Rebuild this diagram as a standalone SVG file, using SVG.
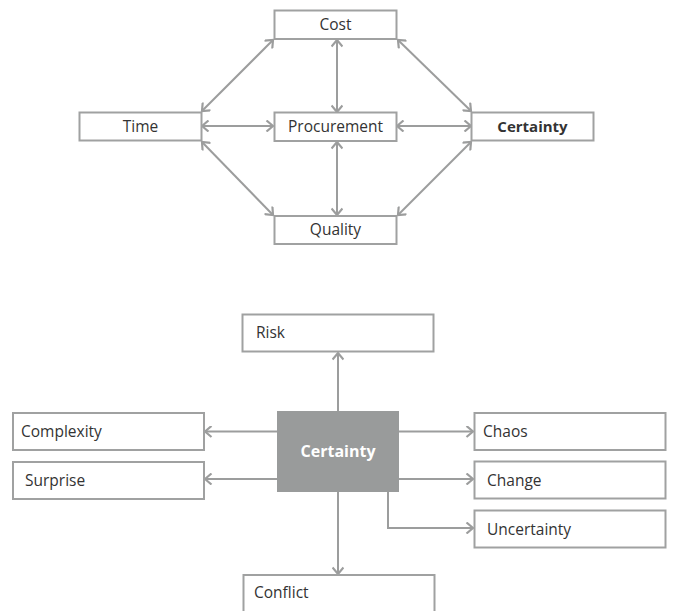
<svg xmlns="http://www.w3.org/2000/svg" width="674" height="611" viewBox="0 0 674 611">
<style>
.box{fill:#fff;stroke:#a0a1a1;stroke-width:2}
.gbox{fill:#999b9b;stroke:none}
.t{font-family:"Open Sans","Noto Sans","Liberation Sans",sans-serif;font-size:15.5px;fill:#333}
.c{text-anchor:middle}
.b{font-weight:bold;font-size:15px}
.w{fill:#fff;font-size:16px}
.ln{fill:none;stroke:#9c9d9d;stroke-width:2}
.ar{marker-end:url(#ah)}
.dbl{marker-start:url(#ah);marker-end:url(#ah)}
</style>
<defs>
<marker id="ah" viewBox="0 0 12 12" markerWidth="12" markerHeight="12" refX="10.5" refY="6" orient="auto-start-reverse" markerUnits="userSpaceOnUse">
<path d="M4,0.5 L10.5,6 L4,11.5" fill="none" stroke="#9c9d9d" stroke-width="2.2"/>
</marker>
</defs>
<rect width="674" height="611" fill="#fff"/>
<g id="connectors">
<line class="ln dbl" x1="337" y1="40" x2="337" y2="112"/>
<line class="ln dbl" x1="202" y1="126" x2="273" y2="126"/>
<line class="ln dbl" x1="397" y1="126" x2="471" y2="126"/>
<line class="ln dbl" x1="337" y1="142" x2="337" y2="215"/>
<line class="ln dbl" x1="202" y1="111" x2="273" y2="40"/>
<line class="ln dbl" x1="398" y1="40" x2="471" y2="111"/>
<line class="ln dbl" x1="202" y1="142" x2="273" y2="215"/>
<line class="ln dbl" x1="471" y1="142" x2="398" y2="215"/>
<line class="ln ar" x1="338" y1="411" x2="338" y2="353"/>
<line class="ln ar" x1="277" y1="431.5" x2="205" y2="431.5"/>
<line class="ln ar" x1="277" y1="479" x2="205" y2="479"/>
<line class="ln ar" x1="399" y1="431.5" x2="473" y2="431.5"/>
<line class="ln ar" x1="399" y1="479" x2="473" y2="479"/>
<polyline class="ln ar" points="388,492 388,528 473,528"/>
<line class="ln ar" x1="338" y1="492" x2="338" y2="574"/>
</g>
<g id="cost"><rect class="box" x="274.5" y="10.5" width="122" height="28.5"/><text class="t c" x="335.5" y="30">Cost</text></g>
<g id="time"><rect class="box" x="79.5" y="112.5" width="122" height="28"/><text class="t c" x="140.5" y="131.5">Time</text></g>
<g id="procurement"><rect class="box" x="274.5" y="112.5" width="122" height="28.5"/><text class="t c" x="335.5" y="131.5">Procurement</text></g>
<g id="certainty-top"><rect class="box" x="471.5" y="112.5" width="122" height="28"/><text class="t c b" x="532.5" y="131.5">Certainty</text></g>
<g id="quality"><rect class="box" x="274.5" y="216" width="122" height="28"/><text class="t c" x="335.5" y="235">Quality</text></g>
<g id="risk"><rect class="box" x="242.5" y="314.5" width="191" height="37"/><text class="t" x="256" y="338">Risk</text></g>
<g id="certainty"><rect class="gbox" x="277" y="411" width="122" height="81"/><text class="t c b w" x="338" y="457">Certainty</text></g>
<g id="complexity"><rect class="box" x="13" y="413" width="191" height="37"/><text class="t" x="21" y="437">Complexity</text></g>
<g id="surprise"><rect class="box" x="13" y="462" width="191" height="37"/><text class="t" x="25" y="486">Surprise</text></g>
<g id="chaos"><rect class="box" x="474.5" y="413" width="191" height="37"/><text class="t" x="483" y="437">Chaos</text></g>
<g id="change"><rect class="box" x="474.5" y="461.5" width="191" height="37"/><text class="t" x="487" y="485.5">Change</text></g>
<g id="uncertainty"><rect class="box" x="474.5" y="510.5" width="191" height="37"/><text class="t" x="487" y="534.5">Uncertainty</text></g>
<g id="conflict"><rect class="box" x="243.5" y="575" width="191" height="45"/><text class="t" x="254" y="598">Conflict</text></g>
</svg>
